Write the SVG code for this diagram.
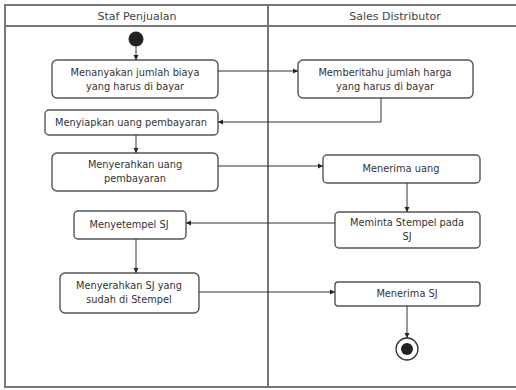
<svg xmlns="http://www.w3.org/2000/svg" width="516" height="390" viewBox="0 0 516 390">
<defs>
<marker id="ah" markerWidth="6" markerHeight="6" refX="5" refY="3" orient="auto" markerUnits="userSpaceOnUse">
<path d="M0,0.5 L5,3 L0,5.5 Z" fill="#222"/>
</marker>
<style>
.frame{fill:none;stroke:#777;stroke-width:2}
.node rect{fill:#fff;stroke:#555;stroke-width:1.4}
text{font-family:"DejaVu Sans","Liberation Sans",sans-serif;font-size:9.8px;fill:#333;text-anchor:middle}
.hdr{font-size:11px;fill:#444}
.conn path{fill:none;stroke:#333;stroke-width:1;marker-end:url(#ah)}
</style>
</defs>
<rect width="516" height="390" fill="#fff"/>
<g id="lanes">
<path class="frame" d="M520,5 H5 V387 H520"/>
<line class="frame" x1="5" y1="26" x2="520" y2="26"/>
<line class="frame" x1="268" y1="5" x2="268" y2="387"/>
<text class="hdr" x="137" y="20">Staf Penjualan</text>
<text class="hdr" x="395" y="20">Sales Distributor</text>
</g>
<g id="start"><circle cx="136" cy="39" r="7.5" fill="#222"/></g>
<g id="n1" class="node"><rect x="52" y="60" width="166" height="38" rx="5"/>
<text x="135" y="76">Menanyakan jumlah biaya</text><text x="135" y="90">yang harus di bayar</text></g>
<g id="n2" class="node"><rect x="298" y="60" width="175" height="38" rx="5"/>
<text x="385" y="76">Memberitahu jumlah harga</text><text x="385" y="90">yang harus di bayar</text></g>
<g id="n3" class="node"><rect x="45" y="110" width="173" height="25" rx="4"/>
<text x="131" y="126">Menyiapkan uang pembayaran</text></g>
<g id="n4" class="node"><rect x="52" y="153" width="166" height="38" rx="5"/>
<text x="135" y="168">Menyerahkan uang</text><text x="135" y="182">pembayaran</text></g>
<g id="n5" class="node"><rect x="323" y="155" width="157" height="28" rx="4"/>
<text x="401" y="172">Menerima uang</text></g>
<g id="n6" class="node"><rect x="335" y="212" width="145" height="36" rx="4"/>
<text x="407" y="226">Meminta Stempel pada</text><text x="407" y="240">SJ</text></g>
<g id="n7" class="node"><rect x="74" y="211" width="112" height="28" rx="4"/>
<text x="129" y="228">Menyetempel  SJ</text></g>
<g id="n8" class="node"><rect x="60" y="273" width="139" height="40" rx="5"/>
<text x="129" y="289">Menyerahkan SJ yang</text><text x="129" y="303">sudah di Stempel</text></g>
<g id="n9" class="node"><rect x="335" y="282" width="145" height="24" rx="3"/>
<text x="407" y="297">Menerima SJ</text></g>
<g id="end"><circle cx="407" cy="349" r="11" fill="#fff" stroke="#333" stroke-width="1.3"/><circle cx="407" cy="349" r="6" fill="#222"/></g>
<g id="connectors" class="conn">
<path d="M136,46.5 V60"/>
<path d="M218,71 H298"/>
<path d="M381,98 V122 H218"/>
<path d="M136,135 V153"/>
<path d="M218,166 H323"/>
<path d="M407,183 V212"/>
<path d="M335,223 H186"/>
<path d="M136,239 V273"/>
<path d="M199,292 H335"/>
<path d="M407,306 V338"/>
</g>
</svg>
